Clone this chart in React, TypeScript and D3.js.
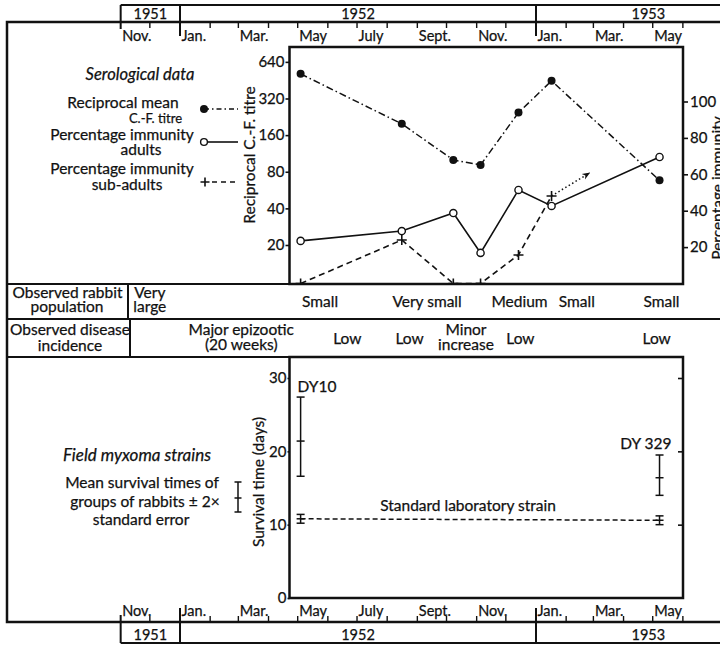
import React, { useEffect, useRef } from "react";
import * as d3 from "d3";

const parseDate = d3.timeParse("%Y-%m-%d");

// serological samples (same sampling dates for the three series)
const sampleDates = ["1952-05-04", "1952-08-16", "1952-10-08", "1952-11-05", "1952-12-14", "1953-01-17", "1953-05-08"];
const titreValues = [510, 198, 100, 91, 245, 447, 68]; // reciprocal mean C.-F. titre
const adultImmunity = [23.4, 28.8, 38.7, 16.8, 51.4, 42.6, 69.5]; // %
const subAdultImmunity = [0, 23.9, 0, 0, 15.7, 48.1]; // % (no sub-adults in May 1953)
const subAdultTrendDate = "1953-02-25"; // dotted arrow
const subAdultTrendValue = 60.7;

const titreTicks = [20, 40, 80, 160, 320, 640];
const immunityTicks = [20, 40, 60, 80, 100];
const survivalTicks = [0, 10, 20, 30];

// field strains: mean survival time (days) and +-2 s.e.
const strainNames = ["DY10", "DY 329"];
const strainDates = ["1952-05-04", "1953-05-08"];
const strainMean = [21.4, 16.4];
const strainLow = [16.6, 14.0];
const strainHigh = [27.4, 19.5];
// standard laboratory strain
const labMean = [10.8, 10.6];
const labLow = [10.2, 10.0];
const labHigh = [11.4, 11.2];

// observation rows
const populationDates = ["1951-12-01", "1952-05-24", "1952-09-11", "1952-12-15", "1953-02-12", "1953-05-10"];
const populationText = ["Very|large", "Small", "Very small", "Medium", "Small", "Small"];
const diseaseDates = ["1952-03-04", "1952-06-21", "1952-08-24", "1952-10-21", "1952-12-16", "1953-05-05"];
const diseaseText = ["Major epizootic|(20 weeks)", "Low", "Low", "Minor|increase", "Low", "Low"];

// time strip
const monthLabels = ["Jan.", "Mar.", "May", "July", "Sept.", "Nov."]; // every other month
const yearLabels = ["1951", "1952", "1953"];
const stripStart = "1951-11-01";
const stripEnd = "1953-08-20";

const W = 720;
const H = 646;
const FONT = "Lato, 'Open Sans', sans-serif";

const App: React.FC = () => {
  const svgRef = useRef<SVGSVGElement | null>(null);

  useEffect(() => {
    const svg = d3.select(svgRef.current);
    svg.selectAll("*").remove();

    const x = d3
      .scaleTime()
      .domain([parseDate("1952-01-01")!, parseDate("1953-01-01")!])
      .range([180, 536]);

    // panel geometry
    const left = 289.5;
    const right = 683;
    const topPlot = { top: 47, bottom: 284 };
    const botPlot = { top: 357, bottom: 598 };

    const yTitre = d3.scaleLog().base(2).domain([9.56, 848]).range([topPlot.bottom, topPlot.top]);
    const yPct = d3.scaleLinear().domain([0, 100]).range([283.5, 101.5]);
    const ySurv = d3.scaleLinear().domain([0, 30]).range([botPlot.bottom, 378]);

    const txt = (t: string, px: number, py: number, anchor = "middle", size = 15.5, italic = false) =>
      svg
        .append("text")
        .attr("x", px)
        .attr("y", py)
        .attr("text-anchor", anchor)
        .attr("font-family", FONT)
        .attr("font-size", size)
        .attr("font-style", italic ? "italic" : "normal")
        .attr("fill", "#111")
        .attr("stroke", "#111")
        .attr("stroke-width", 0.25)
        .text(t);

    const line = (pts: [number, number][], w = 2.5, dash: string | null = null) =>
      svg
        .append("path")
        .attr("d", d3.line()(pts))
        .attr("fill", "none")
        .attr("stroke", "#111")
        .attr("stroke-width", w)
        .attr("stroke-dasharray", dash);

    // ---------- outer frame and table rows ----------
    line([[W, 22], [7, 22], [7, 622], [W, 622]]);
    line([[7, topPlot.bottom], [left, topPlot.bottom]], 2.2);
    line([[7, 319], [W, 319]], 2);
    line([[7, botPlot.top], [left, botPlot.top]], 2.2);
    line([[128, topPlot.bottom], [128, 319]], 2);
    line([[130, 319], [130, botPlot.top]], 2);

    // ---------- time strips (top and bottom) ----------
    const months = d3.timeMonth.range(parseDate(stripStart)!, parseDate("1953-07-01")!);
    const yearStarts = [parseDate(stripStart)!, parseDate("1952-01-01")!, parseDate("1953-01-01")!, parseDate(stripEnd)!];

    [
      { base: 22, outer: 5, dir: 1, labelY: 41 },
      { base: 622, outer: 643, dir: -1, labelY: 616 },
    ].forEach((s) => {
      line([[W, s.outer], [x(yearStarts[0]), s.outer]], 2);
      months.forEach((m, i) => {
        const mx = x(m);
        const isJan = m.getMonth() === 0;
        const len = isJan ? 14 : 6;
        const from = i === 0 || isJan ? s.outer : s.base;
        line([[mx, from], [mx, s.base + s.dir * (i === 0 ? 7 : len)]], i === 0 || isJan ? 2 : 1.4);
        if (m.getMonth() % 2 === 0 && mx < W) {
          txt(monthLabels[m.getMonth() / 2], mx + 1.5, s.labelY, "start", 14.5);
        }
      });
      yearLabels.forEach((yl, i) => {
        const cx = (x(yearStarts[i]) + x(yearStarts[i + 1])) / 2;
        txt(yl, cx, s.dir === 1 ? 19 : 640, "middle", 14.5);
      });
    });

    // ---------- serological panel ----------
    svg
      .append("defs")
      .call((d) =>
        d
          .append("clipPath")
          .attr("id", "topclip")
          .append("rect")
          .attr("x", left)
          .attr("y", topPlot.top)
          .attr("width", right - left)
          .attr("height", topPlot.bottom - topPlot.top)
      )
      .call((d) =>
        d
          .append("marker")
          .attr("id", "arrow")
          .attr("viewBox", "0 0 10 10")
          .attr("refX", 9)
          .attr("refY", 5)
          .attr("markerWidth", 8)
          .attr("markerHeight", 8)
          .attr("markerUnits", "userSpaceOnUse")
          .attr("orient", "auto")
          .append("path")
          .attr("d", "M0,1 L10,5 L0,9 L3,5 z")
          .attr("fill", "#111")
      );

    const dates = sampleDates.map((d) => parseDate(d)!);
    const plot = svg.append("g").attr("clip-path", "url(#topclip)");
    const lineGen = (yf: (v: number) => number) =>
      d3
        .line<number>()
        .x((_, i) => x(dates[i]))
        .y((v) => yf(v));

    plot
      .append("path")
      .attr("d", lineGen(yTitre)(titreValues))
      .attr("fill", "none")
      .attr("stroke", "#111")
      .attr("stroke-width", 1.5)
      .attr("stroke-dasharray", "7,3,1.5,3");
    plot
      .append("path")
      .attr("d", lineGen(yPct)(adultImmunity))
      .attr("fill", "none")
      .attr("stroke", "#111")
      .attr("stroke-width", 1.6);
    plot
      .append("path")
      .attr("d", lineGen(yPct)(subAdultImmunity))
      .attr("fill", "none")
      .attr("stroke", "#111")
      .attr("stroke-width", 1.6)
      .attr("stroke-dasharray", "6,4");

    // dotted arrow for sub-adults
    const lastSub = subAdultImmunity.length - 1;
    plot
      .append("path")
      .attr(
        "d",
        d3.line()([
          [x(dates[lastSub]), yPct(subAdultImmunity[lastSub])],
          [x(parseDate(subAdultTrendDate)!), yPct(subAdultTrendValue)],
        ])
      )
      .attr("stroke", "#111")
      .attr("stroke-width", 1.5)
      .attr("stroke-dasharray", "1.5,2.5")
      .attr("marker-end", "url(#arrow)");

    const plus = (g: any, px: number, py: number, r = 5) =>
      g
        .append("path")
        .attr("d", `M${px - r},${py}H${px + r}M${px},${py - r}V${py + r}`)
        .attr("stroke", "#111")
        .attr("stroke-width", 1.6);

    subAdultImmunity.forEach((v, i) => plus(plot, x(dates[i]), yPct(v)));
    plot
      .selectAll("circle.titre")
      .data(titreValues)
      .join("circle")
      .attr("class", "titre")
      .attr("cx", (_, i) => x(dates[i]))
      .attr("cy", (v) => yTitre(v))
      .attr("r", 4)
      .attr("fill", "#111");
    plot
      .selectAll("circle.adult")
      .data(adultImmunity)
      .join("circle")
      .attr("class", "adult")
      .attr("cx", (_, i) => x(dates[i]))
      .attr("cy", (v) => yPct(v))
      .attr("r", 3.6)
      .attr("fill", "white")
      .attr("stroke", "#111")
      .attr("stroke-width", 1.4);

    const styleAxis = (g: any) => {
      g.select(".domain").remove();
      g.attr("font-family", FONT).attr("font-size", 15);
      g.selectAll("line").attr("stroke", "#111").attr("stroke-width", 1.6);
      g.selectAll("text").attr("fill", "#111").attr("stroke", "#111").attr("stroke-width", 0.25);
    };

    svg
      .append("g")
      .attr("transform", `translate(${left},0)`)
      .call(d3.axisLeft(yTitre).tickValues(titreTicks).tickFormat(d3.format("d")).tickSize(4).tickPadding(1))
      .call(styleAxis);
    svg
      .append("g")
      .attr("transform", `translate(${right},0)`)
      .call(d3.axisRight(yPct).tickValues(immunityTicks).tickSize(5).tickPadding(2))
      .call(styleAxis);

    svg
      .append("rect")
      .attr("x", left)
      .attr("y", topPlot.top)
      .attr("width", right - left)
      .attr("height", topPlot.bottom - topPlot.top)
      .attr("fill", "none")
      .attr("stroke", "#111")
      .attr("stroke-width", 2.5);

    txt("Reciprocal C.-F. titre", 0, 0, "middle", 15.5).attr("transform", "translate(255,155) rotate(-90)");
    txt("Percentage immunity", 0, 0, "middle", 15.5).attr("transform", "translate(723,188) rotate(-90)");

    // legend
    txt("Serological data", 140, 80, "middle", 16.5, true);
    txt("Reciprocal mean", 123, 108);
    txt("C.-F. titre", 182, 123, "end", 13);
    txt("Percentage immunity", 122, 140);
    txt("adults", 141, 155);
    txt("Percentage immunity", 122, 174);
    txt("sub-adults", 127, 190);
    line([[204, 109], [238, 109]], 1.5, "5,3,1.5,3");
    svg.append("circle").attr("cx", 204).attr("cy", 109).attr("r", 4).attr("fill", "#111");
    line([[207, 142], [238, 142]], 1.6);
    svg
      .append("circle")
      .attr("cx", 204)
      .attr("cy", 142)
      .attr("r", 3.4)
      .attr("fill", "white")
      .attr("stroke", "#111")
      .attr("stroke-width", 1.4);
    line([[212, 182], [238, 182]], 1.6, "5,4");
    plus(svg, 205, 182, 4.5);

    // ---------- observation rows ----------
    txt("Observed rabbit", 67.5, 298);
    txt("population", 67, 312);
    txt("Observed disease", 70, 335);
    txt("incidence", 70, 351);

    populationText.forEach((t, i) => {
      const px = x(parseDate(populationDates[i])!);
      const parts = t.split("|");
      if (parts.length > 1) {
        txt(parts[0], px, 298);
        txt(parts[1], px, 312);
      } else txt(t, px, 307);
    });
    diseaseText.forEach((t, i) => {
      const px = x(parseDate(diseaseDates[i])!);
      const parts = t.split("|");
      if (parts.length > 1) {
        txt(parts[0], px, 335);
        txt(parts[1], px, 350);
      } else txt(t, px, 344);
    });

    // ---------- survival panel ----------
    svg
      .append("g")
      .attr("transform", `translate(${left},0)`)
      .call(d3.axisLeft(ySurv).tickValues(survivalTicks).tickSize(2).tickPadding(1))
      .call(styleAxis);
    svg
      .append("g")
      .attr("transform", `translate(${right},0)`)
      .call(d3.axisLeft(ySurv).tickValues(survivalTicks.slice(1)).tickSize(5).tickFormat(() => ""))
      .call(styleAxis);

    const errorBar = (cx: number, lo: number, mid: number, hi: number, cap = 7) => {
      line([[cx, hi], [cx, lo]], 1.5);
      [lo, mid, hi].forEach((yy) => line([[cx - cap / 2, yy], [cx + cap / 2, yy]], 1.5));
    };

    const sDates = strainDates.map((d) => parseDate(d)!);
    line(
      [
        [x(sDates[0]), ySurv(labMean[0])],
        [x(sDates[1]), ySurv(labMean[1])],
      ],
      1.5,
      "5,3"
    );
    sDates.forEach((d, i) => {
      errorBar(x(d), ySurv(strainLow[i]), ySurv(strainMean[i]), ySurv(strainHigh[i]), 8);
      errorBar(x(d), ySurv(labLow[i]), ySurv(labMean[i]), ySurv(labHigh[i]), 8);
    });
    txt(strainNames[0], x(sDates[0]) - 3, 392, "start");
    txt(strainNames[1], x(sDates[1]) + 12, 449, "end");
    txt("Standard laboratory strain", 468, 511);

    svg
      .append("rect")
      .attr("x", left)
      .attr("y", botPlot.top)
      .attr("width", right - left)
      .attr("height", botPlot.bottom - botPlot.top)
      .attr("fill", "none")
      .attr("stroke", "#111")
      .attr("stroke-width", 2.5);

    txt("Survival time (days)", 0, 0, "middle", 15.5).attr("transform", "translate(264,482) rotate(-90)");

    txt("Field myxoma strains", 137, 461, "middle", 17, true);
    txt("Mean survival times of", 142, 488);
    txt("groups of rabbits \u00b1 2\u00d7", 145, 507);
    txt("standard error", 141, 525);
    errorBar(238, 512, 498, 482, 7);
  }, []);

  return (
    <svg
      ref={svgRef}
      width={W}
      height={H}
      style={{ position: "absolute", left: 0, top: 0, background: "white" }}
    ></svg>
  );
};

export default App;
